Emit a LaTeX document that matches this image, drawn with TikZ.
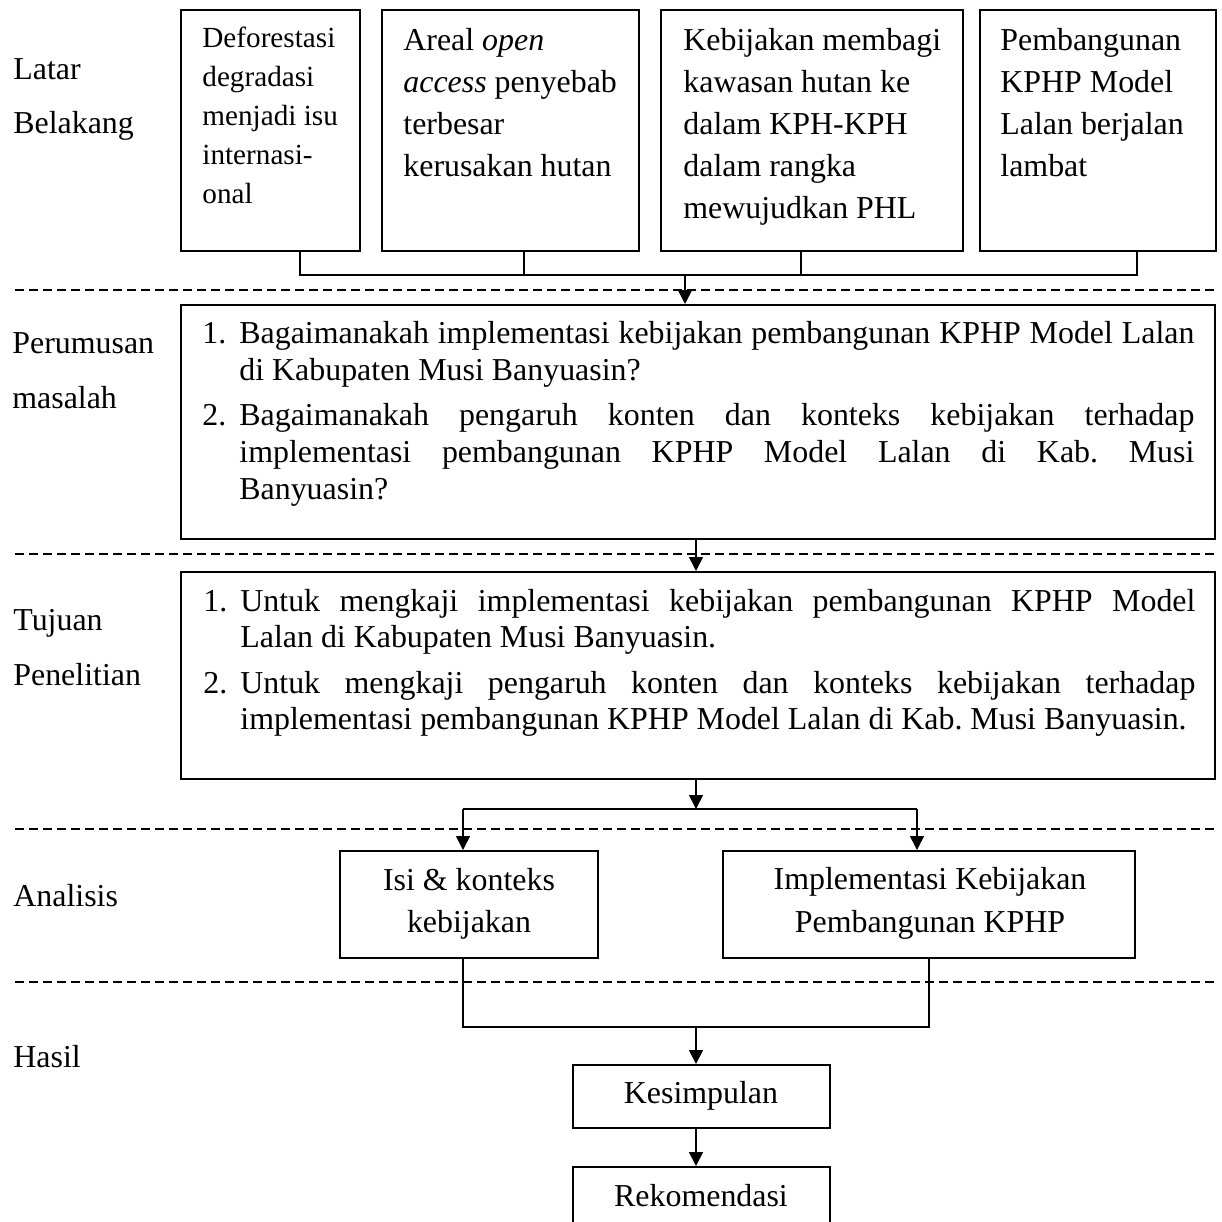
\documentclass[tikz,border=0pt]{standalone}
\usepackage{fontspec}
\setmainfont{Liberation Serif}
\usetikzlibrary{arrows.meta,fit}
\newcommand\mainsz{\fontsize{15.95pt}{21pt}\selectfont}
\newcommand\smallsz{\fontsize{14.6pt}{19.5pt}\selectfont}
\newcommand\lline[1]{\hbox{#1}}
\newcommand\cenline[1]{\hbox to 0pt{\hss#1\hss}}
\newcommand\sline[1]{\hbox{\makebox[477.5pt][s]{#1}}}
\begin{document}
\begin{tikzpicture}[x=0.5pt,y=-0.5pt,
  box/.style={draw, line width=1pt, inner sep=0pt, rectangle},
  conn/.style={line width=0.8pt},
  arr/.style={conn, -{Triangle[length=7pt,width=7pt]}},
  sep/.style={line width=0.65pt, dash pattern=on 4.5pt off 2.5pt},
  txt/.style={inner sep=0pt, anchor=base west, font=\mainsz},
  ctxt/.style={inner sep=0pt, anchor=base, font=\mainsz}]
\frenchspacing
\useasboundingbox (0,0) rectangle (1222,1222);

% section labels
\node[txt] (l1) at (13,79) {Latar};
\node[txt] (l2) at (13,133) {Belakang};
\node[txt] (l3) at (12,353) {Perumusan};
\node[txt] (l4) at (12,408) {masalah};
\node[txt] (l5) at (13,630) {Tujuan};
\node[txt] (l6) at (13,685) {Penelitian};
\node[txt] (l7) at (13,906) {Analisis};
\node[txt] (l8) at (13,1067) {Hasil};

% separators
\foreach \i/\yy in {1/290,2/554,3/829,4/982}{
  \coordinate (s\i l) at (15,\yy);
  \coordinate (s\i r) at (1215,\yy);
  \draw[sep] (s\i l) -- (s\i r);
}

% background boxes
\node[box, fit={(181,10) (360,251)}] (b1) {};
\node[box, fit={(382,10) (639,251)}] (b2) {};
\node[box, fit={(661,10) (963,251)}] (b3) {};
\node[box, fit={(980,10) (1216,251)}] (b4) {};

\node[txt, font=\smallsz] (t1) at (202,47) {\vtop{\baselineskip=19.5pt
  \lline{Deforestasi}\lline{degradasi}\lline{menjadi isu}\lline{internasi-}\lline{onal}}};
\node[txt] (t2) at (403,50) {\vtop{\baselineskip=21pt
  \lline{Areal \textit{open}}\lline{\textit{access} penyebab}\lline{terbesar}\lline{kerusakan hutan}}};
\node[txt] (t3) at (683,50) {\vtop{\baselineskip=21pt
  \lline{Kebijakan membagi}\lline{kawasan hutan ke}\lline{dalam KPH-KPH}\lline{dalam rangka}\lline{mewujudkan PHL}}};
\node[txt] (t4) at (1000,50) {\vtop{\baselineskip=21pt
  \lline{Pembangunan}\lline{KPHP Model}\lline{Lalan berjalan}\lline{lambat}}};

% problem box
\node[box, fit={(181,305) (1215,539)}] (pm) {};
\node[txt] (pn1) at (202,343) {1.};
\node[txt] (pi1) at (239,343) {\vtop{\baselineskip=18.5pt
  \sline{Bagaimanakah implementasi kebijakan pembangunan KPHP Model Lalan}
  \lline{di Kabupaten Musi Banyuasin?}}};
\node[txt] (pn2) at (202,425) {2.};
\node[txt] (pi2) at (239,425) {\vtop{\baselineskip=18.5pt
  \sline{Bagaimanakah pengaruh konten dan konteks kebijakan terhadap}
  \sline{implementasi pembangunan KPHP Model Lalan di Kab. Musi}
  \lline{Banyuasin?}}};

% objective box
\node[box, fit={(181,572) (1215,779)}] (tj) {};
\node[txt] (tn1) at (203,611) {1.};
\node[txt] (ti1) at (240,611) {\vtop{\baselineskip=18pt
  \sline{Untuk mengkaji implementasi kebijakan pembangunan KPHP Model}
  \lline{Lalan di Kabupaten Musi Banyuasin.}}};
\node[txt] (tn2) at (203,693) {2.};
\node[txt] (ti2) at (240,693) {\vtop{\baselineskip=18pt
  \sline{Untuk mengkaji pengaruh konten dan konteks kebijakan terhadap}
  \lline{implementasi pembangunan KPHP Model Lalan di Kab. Musi Banyuasin.}}};

% analysis boxes
\node[box, fit={(340,851) (598,958)}] (an1) {};
\node[ctxt] (an1t) at (469,890) {\vtop{\baselineskip=21pt
  \cenline{Isi \& konteks}\cenline{kebijakan}}};
\node[box, fit={(723,851) (1135,958)}] (an2) {};
\node[ctxt] (an2t) at (930,889) {\vtop{\baselineskip=21.5pt
  \cenline{Implementasi Kebijakan}\cenline{Pembangunan KPHP}}};

% result boxes
\node[box, fit={(573,1065) (830,1128)}] (ks) {};
\node[ctxt] (kst) at (701,1103) {Kesimpulan};
\node[box, fit={(573,1167) (830,1250)}] (rk) {};
\node[ctxt] (rkt) at (701,1206) {Rekomendasi};

% connectors
\coordinate (j1) at (300,275);
\coordinate (j2) at (524,275);
\coordinate (j3) at (801,275);
\coordinate (j4) at (1137,275);
\coordinate (ja) at (685,275);
\draw[conn] (b1.south -| j1) -- (j1) -- (j4) -- (b4.south -| j4);
\draw[conn] (b2.south -| j2) -- (j2);
\draw[conn] (b3.south -| j3) -- (j3);
\draw[arr] (ja) -- (pm.north -| ja);

\coordinate (jb) at (696,539);
\draw[arr] (pm.south -| jb) -- (tj.north -| jb);

\coordinate (jc) at (696,809);
\coordinate (jcl) at (463,809);
\coordinate (jcr) at (917,809);
\draw[arr] (tj.south -| jc) -- (jc);
\draw[conn] (jcl) -- (jcr);
\draw[arr] (jcl) -- (an1.north -| jcl);
\draw[arr] (jcr) -- (an2.north -| jcr);

\coordinate (jdl) at (463,1027);
\coordinate (jdr) at (929,1027);
\coordinate (jd) at (696,1027);
\draw[conn] (an1.south -| jdl) -- (jdl) -- (jdr) -- (an2.south -| jdr);
\draw[arr] (jd) -- (ks.north -| jd);
\draw[arr] (ks.south -| jd) -- (rk.north -| jd);
\end{tikzpicture}
\end{document}
